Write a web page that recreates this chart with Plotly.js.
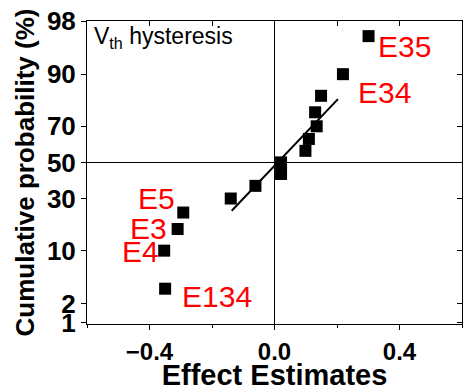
<!DOCTYPE html>
<html>
<head>
<meta charset="utf-8">
<script src="https://cdn.plot.ly/plotly-3.0.1.min.js"></script>
<style>html,body{margin:0;padding:0;background:#fff;}#chart{width:463px;height:391px;}</style>
</head>
<body>
<div id="chart"></div>
<script>
// ---- data ----
const effectX = [-0.350, -0.353, -0.310, -0.292, -0.140, -0.061, 0.021, 0.021, 0.099, 0.110, 0.135, 0.130, 0.149, 0.219, 0.301];
const probPct = [3.33, 10, 16.67, 23.33, 30, 36.67, 43.33, 50, 56.67, 63.33, 70, 76.67, 83.33, 90, 96.67];
const labelNames = ["E134", "E4", "E3", "E5", "E34", "E35"];
const labelIndex = [0, 1, 2, 3, 13, 14];
const fitX = [-0.137, 0.203];
const fitPct = [24.1, 82.1];
const yTickPct = [1, 2, 10, 30, 50, 70, 90, 98];
const yTickText = ["1", "2", "10", "30", "50", "70", "90", "98"];

// inverse standard normal CDF (Acklam)
function probit(p) {
  const a=[-3.969683028665376e+01,2.209460984245205e+02,-2.759285104469687e+02,1.383577518672690e+02,-3.066479806614716e+01,2.506628277459239e+00];
  const b=[-5.447609879822406e+01,1.615858368580409e+02,-1.556989798598866e+02,6.680131188771972e+01,-1.328068155288572e+01];
  const c=[-7.784894002430293e-03,-3.223964580411365e-01,-2.400758277161838e+00,-2.549732539343734e+00,4.374664141464968e+00,2.938163982698783e+00];
  const d=[7.784695709041462e-03,3.224671290700398e-01,2.445134137142996e+00,3.754408661907416e+00];
  const pl=0.02425, ph=1-pl; let q,r;
  if (p<pl){q=Math.sqrt(-2*Math.log(p));return (((((c[0]*q+c[1])*q+c[2])*q+c[3])*q+c[4])*q+c[5])/((((d[0]*q+d[1])*q+d[2])*q+d[3])*q+1);}
  if (p<=ph){q=p-0.5;r=q*q;return (((((a[0]*r+a[1])*r+a[2])*r+a[3])*r+a[4])*r+a[5])*q/(((((b[0]*r+b[1])*r+b[2])*r+b[3])*r+b[4])*r+1);}
  q=Math.sqrt(-2*Math.log(1-p));return -(((((c[0]*q+c[1])*q+c[2])*q+c[3])*q+c[4])*q+c[5])/((((d[0]*q+d[1])*q+d[2])*q+d[3])*q+1);
}
const z = v => probit(v/100);

const FONT = "Arial, 'Liberation Sans', sans-serif";
const yRange = [-2.347, z(98)];
const yTickVals = yTickPct.map(z);

const traces = [
  {x: fitX, y: fitPct.map(z), mode: 'lines', line: {color: '#000', width: 2}, showlegend: false, hoverinfo: 'skip'},
  {x: effectX, y: probPct.map(z), mode: 'markers', marker: {symbol: 'square', size: 12, color: '#000'}, showlegend: false},
  {x: [], y: [], xaxis: 'x2', yaxis: 'y2', showlegend: false, hoverinfo: 'skip'}
];

const labelShift = {
  "E134": [52, -8], "E4": [-24, -1], "E3": [-29, 1], "E5": [-27, 14], "E34": [42, -18], "E35": [36, -10]
};

const annotations = labelNames.map((name, i) => {
  const k = labelIndex[i];
  return {x: effectX[k], y: z(probPct[k]), xref: 'x', yref: 'y', text: name, showarrow: false,
    xanchor: 'center', yanchor: 'middle', xshift: labelShift[name][0], yshift: labelShift[name][1],
    font: {family: FONT, size: 30, color: '#ff0000'}};
});
annotations.push({xref: 'paper', yref: 'paper', x: 0.013, y: 0.945, xanchor: 'left', yanchor: 'middle',
  text: 'V<sub>th</sub> hysteresis', showarrow: false, font: {family: FONT, size: 23, color: '#000'}});

const layout = {
  width: 463, height: 391,
  margin: {l: 87, r: 1, t: 21, b: 67},
  paper_bgcolor: '#fff', plot_bgcolor: '#fff',
  font: {family: FONT, color: '#000'},
  xaxis: {
    range: [-0.6, 0.6], tick0: 0, dtick: 0.4, tickformat: '.1f',
    ticks: 'outside', ticklen: 5, tickwidth: 1, tickcolor: '#000',
    minor: {dtick: 0.2, ticks: 'outside', ticklen: 3, tickcolor: '#000', showgrid: false},
    showgrid: false, zeroline: true, zerolinecolor: '#000', zerolinewidth: 1,
    showline: true, linecolor: '#000', linewidth: 1, mirror: true,
    ticklabelstandoff: 1,
    tickfont: {family: FONT, size: 24, color: '#000', weight: 'bold'},
    title: {text: '<b>Effect Estimates</b>', font: {family: FONT, size: 29, color: '#000'}, standoff: 0}
  },
  yaxis: {
    range: yRange, tickmode: 'array', tickvals: yTickVals, ticktext: yTickText,
    ticks: 'outside', ticklen: 5, tickwidth: 1, tickcolor: '#000',
    showgrid: false, zeroline: true, zerolinecolor: '#000', zerolinewidth: 1,
    showline: true, linecolor: '#000', linewidth: 1, mirror: true,
    tickfont: {family: FONT, size: 26, color: '#000', weight: 'bold'},
    title: {text: '<b>Cumulative probability (%)</b>', font: {family: FONT, size: 26, color: '#000'}, standoff: 4}
  },
  xaxis2: {
    overlaying: 'x', side: 'top', range: [-0.6, 0.6], tick0: 0, dtick: 0.2,
    ticks: 'inside', ticklen: 5, tickcolor: '#000', showticklabels: false,
    showgrid: false, zeroline: false, showline: false
  },
  yaxis2: {
    overlaying: 'y', side: 'right', range: yRange, tickmode: 'array', tickvals: yTickVals,
    ticks: 'inside', ticklen: 5, tickcolor: '#000', showticklabels: false,
    showgrid: false, zeroline: false, showline: false
  },
  annotations: annotations,
  showlegend: false
};

Plotly.newPlot('chart', traces, layout, {displayModeBar: false, staticPlot: true});
</script>
</body>
</html>
